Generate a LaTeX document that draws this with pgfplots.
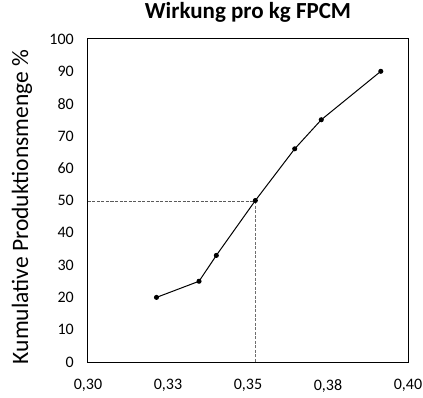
\documentclass[border=0pt]{standalone}
\usepackage{pgfplots}
\pgfplotsset{compat=1.18}
\usepackage{fontspec}
\setmainfont{Carlito}
\begin{document}
\begin{tikzpicture}
\useasboundingbox (0pt,0pt) rectangle (423pt,397pt);
\begin{axis}[at={(88pt,35pt)}, anchor=south west, scale only axis,
  width=320pt, height=323pt,
  xmin=0.3, xmax=0.4, ymin=0, ymax=100,
  xtick={0.3,0.325,0.35,0.375,0.4},
  xticklabels={{0,30},{0,33},{0,35},{0,38},{0,40}},
  ytick={0,10,...,100},
  /pgf/number format/assume math mode=true,
  tick style={draw=none},
  axis line style={black, line width=1pt},
  ticklabel style={font=\fontsize{16}{18}\selectfont, inner sep=0pt},
  xticklabel style={anchor=north, yshift=-17pt},
  yticklabel style={anchor=east, xshift=-14pt},
  title={Wirkung pro kg FPCM},
  title style={font=\fontsize{23}{26}\selectfont\bfseries, at={(axis description cs:0.5,1)}, anchor=base, yshift=14pt},
  ylabel={Kumulative Produktionsmenge \%},
  ylabel style={font=\fontsize{23.5}{27}\selectfont, at={(axis description cs:-0.206,0.48)}, anchor=center},
]
\addplot[draw={rgb,255:red,90;green,90;blue,90}, line width=1pt, dash pattern=on 3pt off 1.5pt] coordinates {(0.3,49.7) (0.3523,49.7)};
\addplot[draw={rgb,255:red,110;green,110;blue,110}, line width=1pt, dash pattern=on 3pt off 1.5pt] coordinates {(0.3523,49.7) (0.3523,0)};
\addplot[black, line width=1pt, mark=*, mark size=2pt, mark options={fill=black}] coordinates {
(0.3214,20) (0.3347,25) (0.3401,33) (0.3523,50) (0.3646,66) (0.3729,75) (0.3915,90)};
\end{axis}
\end{tikzpicture}
\end{document}
